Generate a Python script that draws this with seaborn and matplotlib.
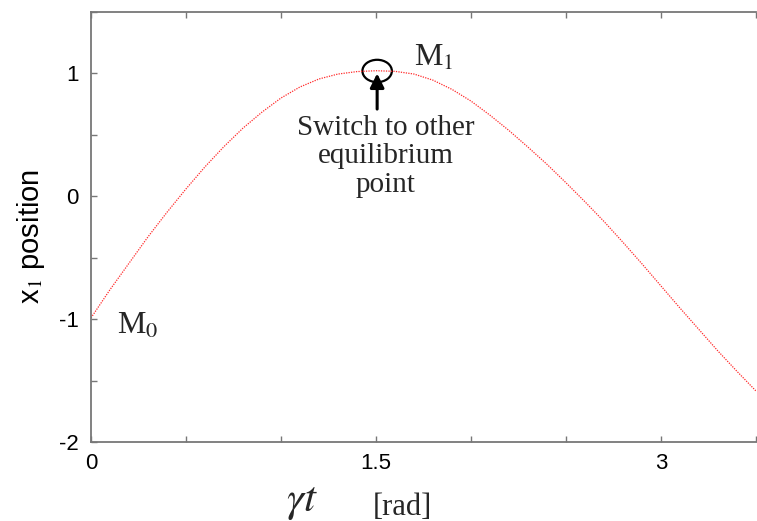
import numpy as np
import pandas as pd
import matplotlib
matplotlib.use("Agg")
import matplotlib.pyplot as plt
from matplotlib.patches import Ellipse
import seaborn as sns

# Phase gt [rad] and the x1 position of the trajectory
gamma_t = [0.0, 0.1, 0.2, 0.3, 0.4, 0.5, 0.6, 0.7, 0.8, 0.9, 1.0, 1.1, 1.2,
           1.3, 1.4, 1.5, 1.6, 1.7, 1.8, 1.9, 2.0, 2.1, 2.2, 2.3, 2.4, 2.5,
           2.6, 2.7, 2.8, 2.9, 3.0, 3.1, 3.2, 3.3, 3.4, 3.5]
x1_pos = [-0.99, -0.76, -0.545, -0.33, -0.13, 0.06, 0.24, 0.405, 0.555, 0.685,
          0.80, 0.89, 0.955, 0.995, 1.015, 1.022, 1.017, 0.995, 0.945, 0.87,
          0.775, 0.66, 0.535, 0.40, 0.26, 0.11, -0.045, -0.205, -0.375, -0.55,
          -0.73, -0.91, -1.085, -1.26, -1.425, -1.585]

x_ticks = [0, 0.5, 1.0, 1.5, 2.0, 2.5, 3.0, 3.5]
x_tick_labels = ["0", "", "", "1.5", "", "", "3", ""]
y_ticks = [-2, -1.5, -1, -0.5, 0, 0.5, 1, 1.5]
y_tick_labels = ["-2", "", "-1", "", "0", "", "1", ""]

# Switching point on the trajectory
switch_t, switch_x = 1.506, 1.02

sns.set_theme(style="white")
plt.rcParams["font.family"] = ["Liberation Sans", "DejaVu Sans"]
plt.rcParams["mathtext.fontset"] = "stix"

fig = plt.figure(figsize=(7.57, 5.21), dpi=100)
ax = fig.add_axes([91 / 757, 79 / 521, 665 / 757, 430 / 521])

df = pd.DataFrame({"gt": gamma_t, "x1": x1_pos})
sns.lineplot(data=df, x="gt", y="x1", ax=ax, color="#ff2a2a", linewidth=0.9,
             estimator=None, sort=False)
ax.lines[0].set_dashes((1.0, 1.0))

ax.set_xlim(0, 3.5)
ax.set_ylim(-2, 1.5)
ax.set_xticks(x_ticks)
ax.set_xticklabels(x_tick_labels)
ax.set_yticks(y_ticks)
ax.set_yticklabels(y_tick_labels)

spine_col = "#777777"
for side in ["left", "bottom", "top"]:
    ax.spines[side].set_color(spine_col)
    ax.spines[side].set_linewidth(1.3)
ax.spines["right"].set_visible(False)

ax.tick_params(axis="both", which="major", direction="in", length=4, width=1,
               color=spine_col, labelsize=16, labelcolor="black",
               top=True, bottom=True, left=True, right=False)
ax.tick_params(axis="x", pad=8)
ax.tick_params(axis="y", pad=9)

# Axis titles
ax.set_ylabel(r"x$_1$ position", fontsize=21, color="black")
ax.yaxis.set_label_coords(-0.066, 0.477)
ax.set_xlabel("")
ax.text(0.317, -0.14, r"$\gamma t$", transform=ax.transAxes, fontsize=31,
        ha="center", va="center", clip_on=False)
ax.text(0.468, -0.152, "[rad]", transform=ax.transAxes, fontsize=22,
        family="Liberation Serif", ha="center", va="center", clip_on=False)

# Marker around the switching point with its arrow and note
ax.add_patch(Ellipse((switch_t, switch_x), width=0.155, height=0.182,
                     fill=False, edgecolor="black", linewidth=1.6))
ax.annotate("", xy=(switch_t, switch_x - 0.02), xytext=(switch_t, 0.71),
            arrowprops=dict(arrowstyle="-|>,head_length=0.7,head_width=0.35",
                            color="black", linewidth=2.2, shrinkA=0, shrinkB=0))
ax.text(1.55, 0.325, "Switch to other\nequilibrium\npoint", fontsize=21,
        family="Liberation Serif", ha="center", va="center",
        multialignment="center", linespacing=1.12)

ax.text(1.70, 1.12, r"M$_1$", fontsize=23, family="Liberation Serif",
        ha="left", va="center")
ax.text(0.135, -1.06, r"M$_0$", fontsize=23, family="Liberation Serif",
        ha="left", va="center")

fig.savefig("out.png", dpi=100)
